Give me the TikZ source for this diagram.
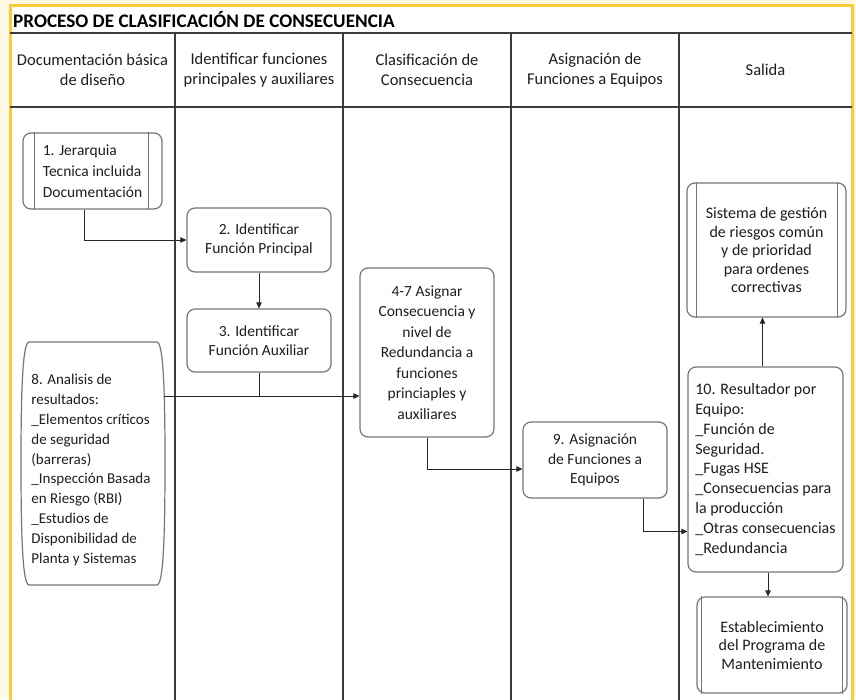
\documentclass[tikz,border=0pt]{standalone}
\usepackage{fontspec}
\setmainfont{Carlito}
\usetikzlibrary{arrows.meta,calc}
\definecolor{frameyellow}{HTML}{FFC93C}
\definecolor{bgcream}{HTML}{FFF8E4}
\definecolor{lanegray}{HTML}{3C3C3C}
\definecolor{boxgray}{HTML}{767676}
\definecolor{txt}{HTML}{1E1E1E}
\begin{document}
\begin{tikzpicture}[x=1pt,y=-1pt,
  lane/.style={draw=lanegray,line width=1.8pt},
  procbox/.style={draw=boxgray,line width=1.2pt,rounded corners=8pt,fill=white,
    font=\fontsize{15.5}{19.5}\selectfont,text=txt,align=center,inner sep=3pt},
  boxline/.style={draw=boxgray,line width=1.2pt},
  conn/.style={draw=black!85,line width=0.9pt,-{Triangle[length=6pt,width=5.5pt]}},
  plainline/.style={draw=black!85,line width=0.9pt},
  hdr/.style={font=\fontsize{16.5}{20}\selectfont,text=txt,align=center}
]
\useasboundingbox (0,0) rectangle (856,699);
\clip (0,0) rectangle (856,699);
\fill[bgcream] (0,0) rectangle (856,699);
\fill[white] (10,5) rectangle (852,710);
\draw[frameyellow,line width=3pt] (10,715) -- (10,5) -- (852,5) -- (852,715);

% title
\node[anchor=west,font=\bfseries\fontsize{19.2}{22}\selectfont,text=black,inner sep=0pt] (title) at (13,20) {PROCESO DE CLASIFICACIÓN DE CONSECUENCIA};

% lanes
\draw[lane] (10,33) -- (852,33);
\draw[lane] (10,107) -- (852,107);
\foreach \lx in {175,343,511,679} { \draw[lane] (\lx,33) -- (\lx,705); }

% headers
\node[hdr] (h1) at (92.5,70) {Documentación básica\\de diseño};
\node[hdr] (h2) at (259,70) {Identificar funciones\\principales y auxiliares};
\node[hdr] (h3) at (427,70) {Clasificación de\\Consecuencia};
\node[hdr] (h4) at (595,70) {Asignación de\\Funciones a Equipos};
\node[hdr] (h5) at (765.5,70) {Salida};

% boxes
\node[procbox,minimum width=139pt,minimum height=76pt,align=left,font=\fontsize{15.5}{21}\selectfont] (b1) at (92.5,171) {1. Jerarquia\\Tecnica incluida\\Documentación};
\draw[boxline] ([xshift=12pt]b1.north west) -- ([xshift=12pt]b1.south west);
\draw[boxline] ([xshift=-14pt]b1.north east) -- ([xshift=-14pt]b1.south east);

\node[procbox,minimum width=144pt,minimum height=64pt] (b2) at (259,240) {2. Identificar\\Función Principal};
\node[procbox,minimum width=144pt,minimum height=63pt] (b3) at (259,340.5) {3. Identificar\\Función Auxiliar};
\node[procbox,minimum width=134pt,minimum height=169pt,font=\fontsize{15.5}{20.5}\selectfont] (b47) at (427,352.5) {4-7 Asignar\\Consecuencia y\\nivel de\\Redundancia a\\funciones\\princiaples y\\auxiliares};
\node[procbox,minimum width=144pt,minimum height=76pt] (b9) at (595,460) {9. Asignación\\de Funciones a\\Equipos};

\node[procbox,minimum width=159pt,minimum height=134pt,font=\fontsize{16}{18.5}\selectfont] (sis) at (766.5,250) {Sistema de gestión\\de riesgos común\\y de prioridad\\para ordenes\\correctivas};
\draw[boxline] ([xshift=10pt]sis.north west) -- ([xshift=10pt]sis.south west);
\draw[boxline] ([xshift=-9pt]sis.north east) -- ([xshift=-9pt]sis.south east);

\node[procbox,minimum width=155pt,minimum height=205pt,align=left,inner xsep=2pt,font=\fontsize{16}{19.8}\selectfont] (b10) at (765.5,469.5) {10. Resultador por\\Equipo:\\\_Función de\\Seguridad.\\\_Fugas HSE\\\_Consecuencias para\\la producción\\\_Otras consecuencias\\\_Redundancia};

\node[procbox,minimum width=150pt,minimum height=96pt,font=\fontsize{16}{18.5}\selectfont] (est) at (772,645) {Establecimiento\\del Programa de\\Mantenimiento};
\draw[boxline] ([xshift=5pt]est.north west) -- ([xshift=5pt]est.south west);
\draw[boxline] ([xshift=-5pt]est.north east) -- ([xshift=-5pt]est.south east);

% box 8 with bowed sides (shape drawn directly)
\draw[boxline]
  (29,342) -- (157,342)
  .. controls (163,343) and (165,383) .. (165,463.5)
  .. controls (165,544) and (163,584) .. (157,585)
  -- (29,585)
  .. controls (23,584) and (21,544) .. (21,463.5)
  .. controls (21,383) and (23,343) .. (29,342)
  -- cycle;
\node[font=\fontsize{15}{19.8}\selectfont,text=txt,align=left,inner sep=0pt] (b8) at (91,470) {8. Analisis de\\resultados:\\\_Elementos críticos\\de seguridad\\(barreras)\\\_Inspección Basada\\en Riesgo (RBI)\\\_Estudios de\\Disponibilidad de\\Planta y Sistemas};

% connectors
\coordinate (j8) at (164,396);
\draw[conn] ([xshift=-8.5pt]b1.south) |- (b2.west);
\draw[conn] (b2.south) -- (b3.north);
\draw[plainline] (b3.south) -- (b3.south |- j8);
\draw[conn] (j8) -- (j8 -| b47.west);
\draw[conn] (b47.south) |- ([yshift=-9pt]b9.west);
\draw[conn] ([xshift=48pt]b9.south) |- ([yshift=-62pt]b10.west);
\draw[conn] ([xshift=-3pt]b10.north) -- ([xshift=-3pt]b10.north |- sis.south);
\draw[conn] ([xshift=2.5pt]b10.south) -- ([xshift=2.5pt]b10.south |- est.north);
\end{tikzpicture}
\end{document}
